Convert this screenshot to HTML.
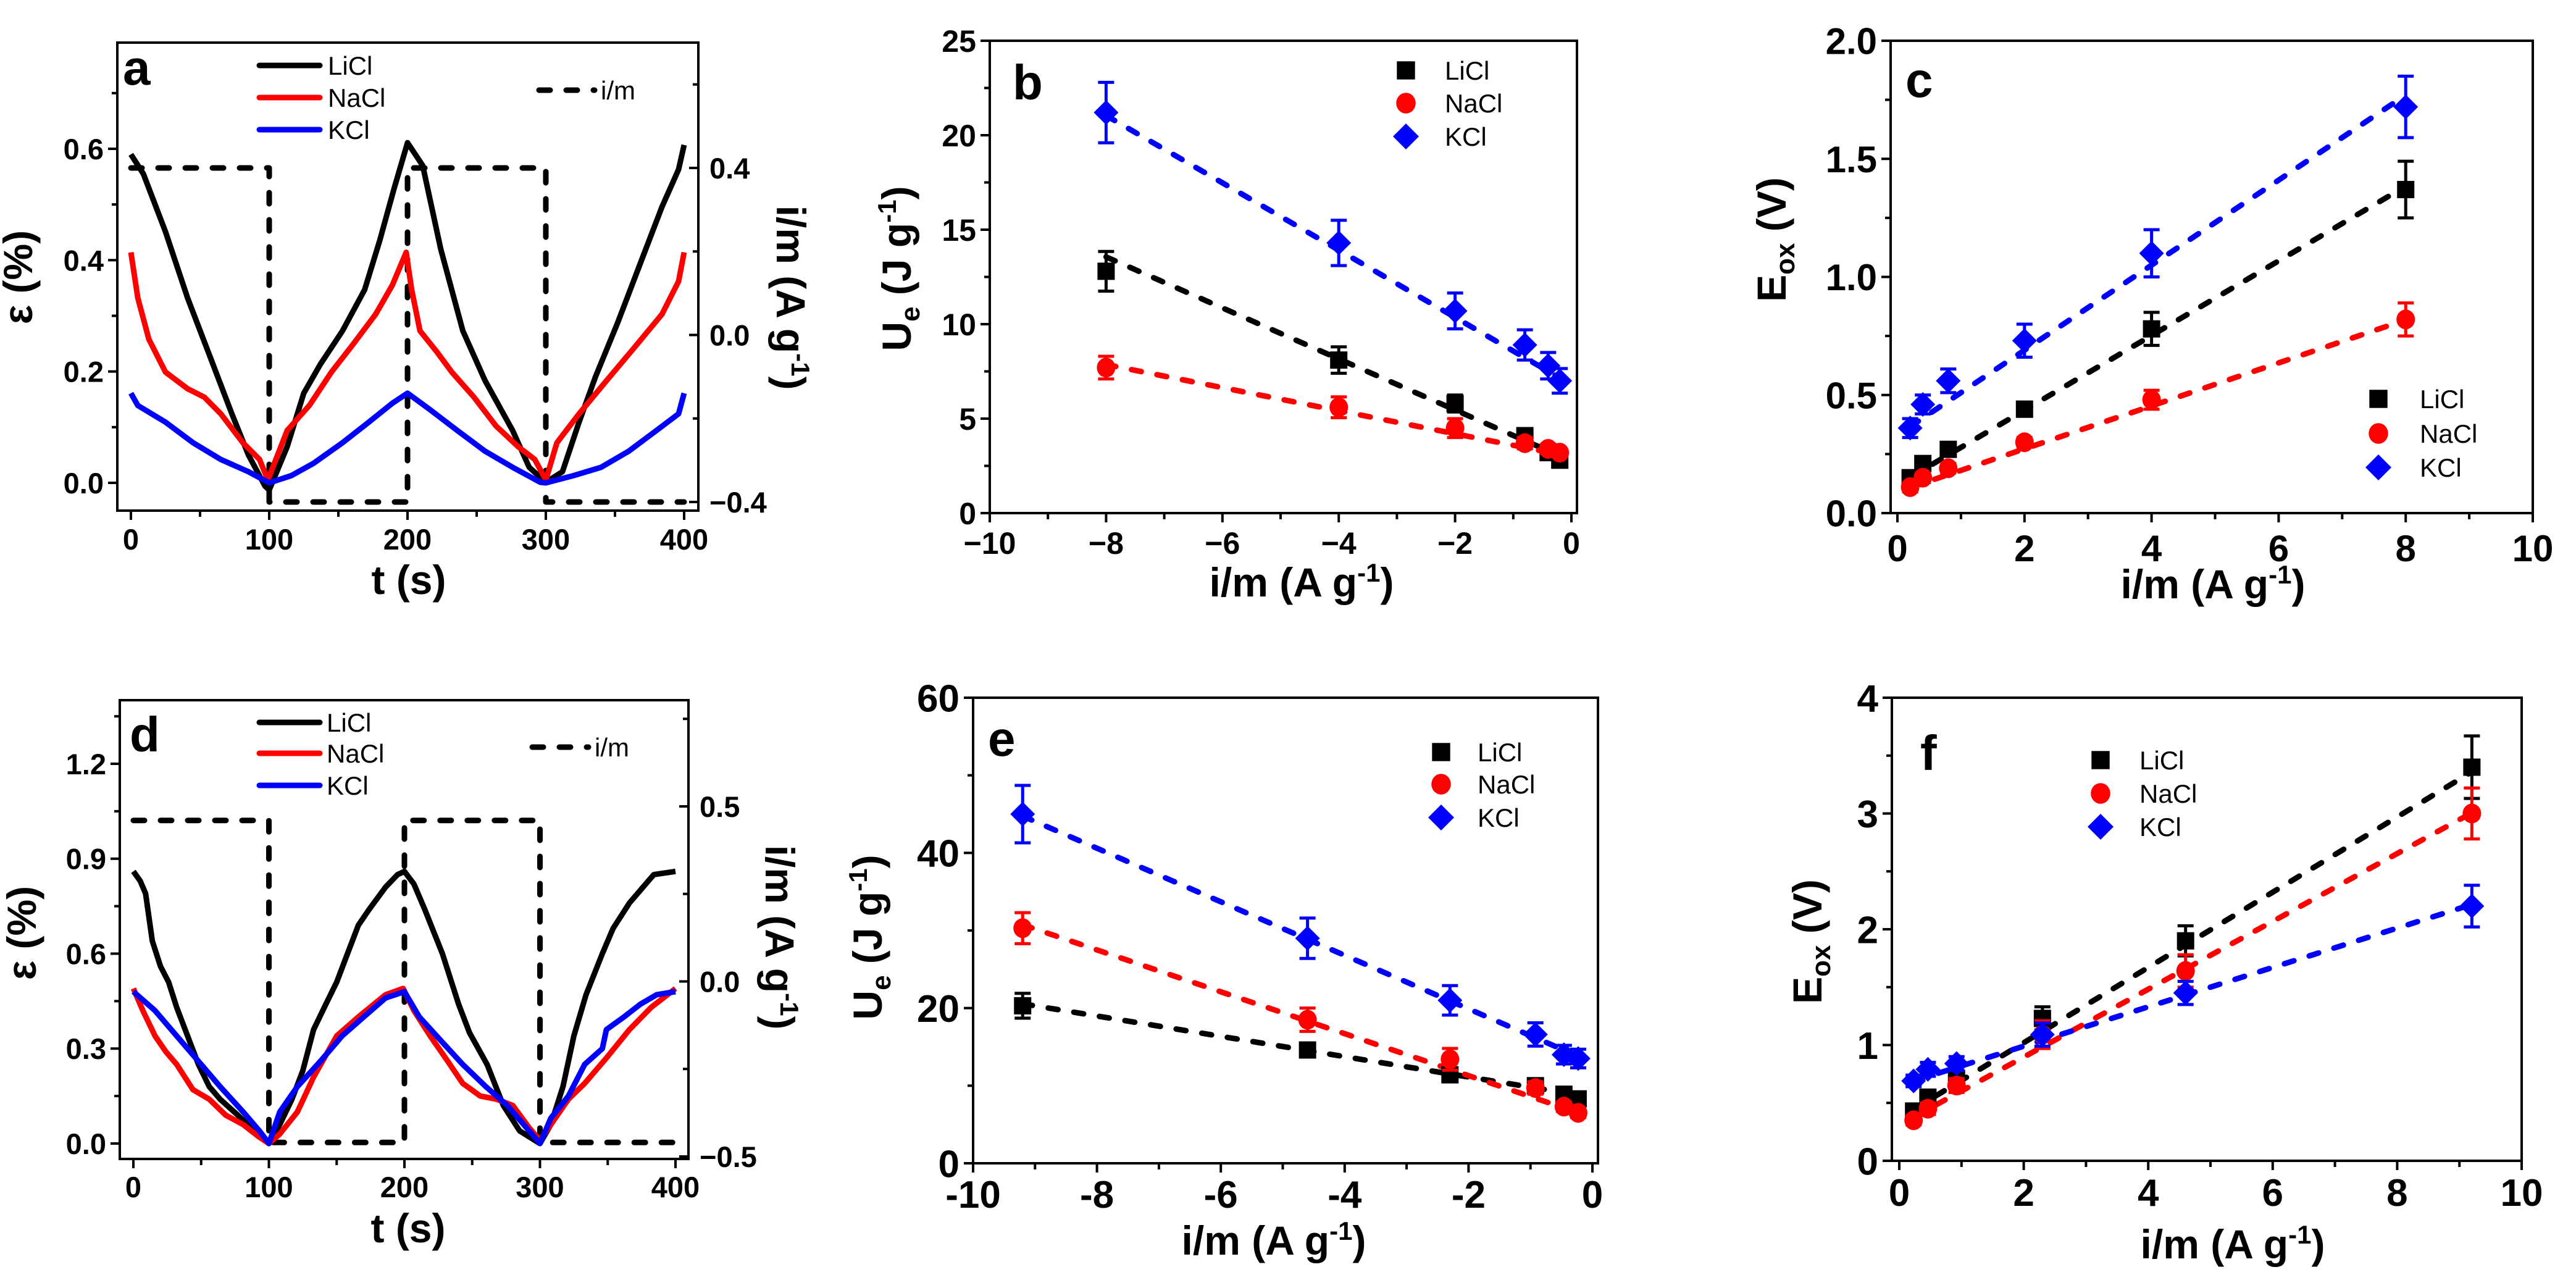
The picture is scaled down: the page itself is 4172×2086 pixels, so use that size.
<!DOCTYPE html>
<html><head><meta charset="utf-8"><title>Figure panels a-f</title>
<style>
html,body{margin:0;padding:0;background:#fff;}
svg{display:block;}
text{font-family:"Liberation Sans",Arial,sans-serif;fill:#000;}
</style></head>
<body>
<svg id="fig" width="4172" height="2086" viewBox="0 0 4172 2086" xmlns="http://www.w3.org/2000/svg">
<rect x="0" y="0" width="4172" height="2086" fill="#fff"/>
</svg>
<script>
// ---------- DATA ----------
// panel a (t in s, strain in %)
const aLiT=[0,9,25,41,57,73,85,97,100,113,125,137,153,169,180,190,200,211,224,240,256,276,288,300,312,324,336,352,368,384,396,400];
const aLiV=[0.59,0.555,0.451,0.332,0.228,0.124,0.05,-0.006,-0.013,0.065,0.161,0.213,0.273,0.347,0.436,0.526,0.611,0.57,0.42,0.273,0.184,0.094,0.028,0.001,0.02,0.109,0.191,0.288,0.392,0.496,0.563,0.607];
const aNaT=[0,5,13,25,41,53,65,81,93,99,113,129,145,161,177,189,199,203,209,221,232,248,264,280,292,300,308,324,344,364,384,396,400];
const aNaV=[0.414,0.332,0.258,0.199,0.169,0.154,0.124,0.072,0.042,0.005,0.094,0.139,0.199,0.25,0.303,0.355,0.414,0.347,0.273,0.236,0.199,0.154,0.102,0.065,0.042,0.005,0.072,0.124,0.184,0.243,0.303,0.362,0.414];
const aKT=[0,5,25,45,65,85,100,116,132,153,172,189,200,216,236,256,276,296,300,320,340,360,380,396,400];
const aKV=[0.161,0.139,0.109,0.072,0.042,0.02,0,0.013,0.035,0.072,0.109,0.143,0.161,0.132,0.094,0.057,0.028,0.001,0,0.013,0.028,0.057,0.094,0.124,0.161];
const aImT=[0,100,100,200,200,300,300,400];
const aImV=[0.4,0.4,-0.4,-0.4,0.4,0.4,-0.4,-0.4];
// panel d
const dLiT=[0,5,9,14,20,26,32,40,48,56,64,77,89,100,108,117,125,133,142,150,158,166,174,186,195,200,207,215,228,240,248,261,273,285,300,308,317,325,334,346,354,366,376,384,400];
const dLiV=[0.86,0.83,0.79,0.64,0.56,0.51,0.43,0.34,0.25,0.18,0.14,0.09,0.04,0.0,0.06,0.14,0.23,0.36,0.44,0.51,0.60,0.69,0.74,0.81,0.85,0.86,0.82,0.74,0.60,0.44,0.35,0.25,0.12,0.04,0.0,0.06,0.18,0.34,0.47,0.60,0.68,0.76,0.81,0.85,0.86];
const dNaT=[0,7,16,24,32,44,56,68,81,93,100,108,121,133,150,166,186,199,207,219,232,243,256,268,280,292,300,308,321,333,349,366,382,400];
const dNaV=[0.49,0.42,0.34,0.29,0.25,0.17,0.14,0.09,0.06,0.02,0.0,0.03,0.10,0.21,0.34,0.40,0.47,0.49,0.42,0.34,0.26,0.19,0.15,0.14,0.12,0.05,0.01,0.06,0.14,0.19,0.27,0.36,0.43,0.49];
const dKT=[0,16,32,48,64,81,93,100,108,121,138,154,170,186,200,211,228,243,260,276,292,300,308,321,333,346,349,362,374,386,400];
const dKV=[0.48,0.42,0.34,0.26,0.18,0.10,0.04,0.0,0.10,0.18,0.26,0.34,0.40,0.46,0.48,0.40,0.32,0.25,0.18,0.12,0.04,0.0,0.08,0.15,0.25,0.30,0.36,0.40,0.44,0.47,0.48];
const dImT=[0,100,100,200,200,300,300,400];
const dImV=[0.46,0.46,-0.46,-0.46,0.46,0.46,-0.46,-0.46];
// panel b
const bX=[-8,-4,-2,-0.8,-0.4,-0.2];
const bLi=[12.8,8.1,5.8,4.1,3.2,2.8];   const bLiErr=[1.05,0.7,0.45,0.3,0.25,0.2];
const bNa=[7.7,5.6,4.5,3.7,3.4,3.2];    const bNaErr=[0.6,0.55,0.5,0.3,0.25,0.2];
const bK=[21.2,14.3,10.7,8.9,7.8,7.0];  const bKErr=[1.6,1.2,0.95,0.8,0.7,0.65];
const bFitSlope=[-1.35,-0.61,-1.78]; const bFitIcpt=[2.76,2.98,6.8]; const bFitRange=[-8,-0.2];
// panel c
const cX=[0.2,0.4,0.8,2,4,8];
const cLi=[0.15,0.21,0.27,0.44,0.78,1.37]; const cLiErr=[0.02,0.02,0.02,0.03,0.07,0.12];
const cNa=[0.11,0.15,0.19,0.30,0.48,0.82]; const cNaErr=[0.02,0.02,0.02,0.02,0.04,0.07];
const cK=[0.36,0.46,0.56,0.73,1.10,1.72];  const cKErr=[0.04,0.04,0.05,0.07,0.1,0.13];
const cFitSlope=[0.158,0.091,0.18]; const cFitIcpt=[0.12,0.09,0.33]; const cFitRange=[0.2,8];
// panel e
const eX=[-9.2,-4.6,-2.3,-0.92,-0.46,-0.23];
const eLi=[20.3,14.6,11.4,10.0,8.9,8.3]; const eLiErr=[1.6,0.6,0.4,0.5,0.5,0.4];
const eNa=[30.3,18.5,13.4,9.7,7.3,6.5];  const eNaErr=[2.0,1.5,1.4,0.8,0.6,0.6];
const eK=[45.0,29.0,21.0,16.6,14.0,13.5]; const eKErr=[3.7,2.6,1.9,1.5,1.2,1.2];
const eFitSlope=[-1.31,-2.70,-3.45]; const eFitIcpt=[8.5,5.9,13.0]; const eFitRange=[-9.2,-0.23];
// panel f
const fX=[0.23,0.46,0.92,2.3,4.6,9.2];
const fLi=[0.43,0.55,0.71,1.23,1.90,3.40]; const fLiErr=[0.04,0.05,0.06,0.1,0.13,0.27];
const fNa=[0.35,0.45,0.65,1.09,1.64,3.0];  const fNaErr=[0.04,0.05,0.06,0.12,0.14,0.22];
const fK=[0.69,0.79,0.84,1.09,1.45,2.20];  const fKErr=[0.05,0.06,0.06,0.1,0.1,0.18];
const fFitSlope=[0.325,0.293,0.17]; const fFitIcpt=[0.37,0.31,0.65]; const fFitRange=[0.23,9.2];
// tick values & labels
const tTicks=[0,100,200,300,400]; const tLabels=["0","100","200","300","400"];
const aLeftTicks=[0,0.2,0.4,0.6]; const aLeftLabels=["0.0","0.2","0.4","0.6"];
const aRightTicks=[-0.4,0,0.4]; const aRightLabels=["\u22120.4","0.0","0.4"];
const bXTicks=[-10,-8,-6,-4,-2,0]; const bXLabels=["\u221210","\u22128","\u22126","\u22124","\u22122","0"];
const bYTicks=[0,5,10,15,20,25]; const bYLabels=["0","5","10","15","20","25"];
const cXTicks=[0,2,4,6,8,10]; const cXLabels=["0","2","4","6","8","10"];
const cYTicks=[0,0.5,1,1.5,2]; const cYLabels=["0.0","0.5","1.0","1.5","2.0"];
const dLeftTicks=[0,0.3,0.6,0.9,1.2]; const dLeftLabels=["0.0","0.3","0.6","0.9","1.2"];
const dRightTicks=[-0.5,0,0.5]; const dRightLabels=["\u22120.5","0.0","0.5"];
const eXTicks=[-10,-8,-6,-4,-2,0]; const eXLabels=["-10","-8","-6","-4","-2","0"];
const eYTicks=[0,20,40,60]; const eYLabels=["0","20","40","60"];
const fXTicks=[0,2,4,6,8,10]; const fXLabels=["0","2","4","6","8","10"];
const fYTicks=[0,1,2,3,4]; const fYLabels=["0","1","2","3","4"];
const seriesNames=["LiCl","NaCl","KCl"];

// ---------- DRAWING ----------
const svg=document.getElementById('fig');
const NS='http://www.w3.org/2000/svg';
const COL=['#000000','#ff0000','#0000ff'];
function mk(tag,attrs,parent){const e=document.createElementNS(NS,tag);for(const k in attrs)e.setAttribute(k,attrs[k]);parent.appendChild(e);return e;}
function lin(v0,p0,v1,p1){return v=>p0+(v-v0)*(p1-p0)/(v1-v0);}

function panel(P){
  const g=mk('g',{},svg);
  
  
  const sx=lin(P.xc[0],P.xc[1],P.xc[2],P.xc[3]);
  const sy=lin(P.yc[0],P.yc[1],P.yc[2],P.yc[3]);
  const F=P.frame;
  const fr=mk('rect',{x:F[0],y:F[1],width:F[2]-F[0],height:F[3]-F[1],fill:'none',stroke:'#000','stroke-width':4},g);
  
  
  const xg=mk('g',{},g);
  
  
  P.xt.forEach((v,i)=>{
    const x=sx(v);
    mk('line',{x1:x,y1:F[3],x2:x,y2:F[3]+15,stroke:'#000','stroke-width':4},xg);
    const t=mk('text',{x:x,y:F[3]+P.xlOff,'text-anchor':'middle','font-size':P.fs,'font-weight':'bold'},xg);
    t.textContent=P.xl[i];
    
    
    if(i<P.xt.length-1){const m=sx((v+P.xt[i+1])/2);mk('line',{x1:m,y1:F[3],x2:m,y2:F[3]+10,stroke:'#000','stroke-width':4},xg);}
  });
  const yg=mk('g',{},g);
  
  
  P.yt.forEach((v,i)=>{
    const y=sy(v);
    mk('line',{x1:F[0]-15,y1:y,x2:F[0],y2:y,stroke:'#000','stroke-width':4},yg);
    const t=mk('text',{x:F[0]-22,y:y+P.fs*0.36,'text-anchor':'end','font-size':P.fs,'font-weight':'bold'},yg);
    t.textContent=P.yl[i];
    
    
    const step=(i<P.yt.length-1)?(P.yt[i+1]-v):(v-P.yt[i-1]);
    const m=sy(v+step/2);
    if(m>F[1]+2) mk('line',{x1:F[0]-9,y1:m,x2:F[0],y2:m,stroke:'#000','stroke-width':4},yg);
  });
  let sy2=null;
  if(P.yc2){
    sy2=lin(P.yc2[0],P.yc2[1],P.yc2[2],P.yc2[3]);
    const rg=mk('g',{},g);
    
    
    P.yt2.forEach((v,i)=>{
      const y=sy2(v);
      mk('line',{x1:F[2]-15,y1:y,x2:F[2],y2:y,stroke:'#000','stroke-width':4},rg);
      const t=mk('text',{x:F[2]+18,y:y+P.fs*0.36,'text-anchor':'start','font-size':P.fs,'font-weight':'bold'},rg);
      t.textContent=P.yl2[i];
      
      
    });
    const st=P.yt2[1]-P.yt2[0];
    for(let v=P.yt2[0]-st/2;v<P.yt2[P.yt2.length-1]+st;v+=st){const y=sy2(v);if(y>F[1]+5&&y<F[3]-5)mk('line',{x1:F[2]-9,y1:y,x2:F[2],y2:y,stroke:'#000','stroke-width':4},rg);}
  }
  const L=mk('text',{x:P.letter[0],y:P.letter[1],'font-size':80,'font-weight':'bold'},g);
  L.textContent=P.lt;
  
  
  const xt=mk('text',{x:P.xtitle[0],y:P.xtitle[1],'text-anchor':'middle','font-size':66,'font-weight':'bold'},g);
  xt.innerHTML=P.xtitleHtml;
  
  
  const yt=mk('text',{x:0,y:0,'text-anchor':'middle','font-size':66,'font-weight':'bold',transform:`translate(${P.ytitle[0]},${P.ytitle[1]}) rotate(-90)`},g);
  yt.innerHTML=P.ytitleHtml;
  
  
  if(P.y2title){
    const t2=mk('text',{x:0,y:0,'text-anchor':'middle','font-size':66,'font-weight':'bold',transform:`translate(${P.y2title[0]},${P.y2title[1]}) rotate(90)`},g);
    t2.innerHTML='i/m (A g<tspan dy="-24" font-size="42">-1</tspan><tspan dy="24">)</tspan>';
    
    
  }
  return {g,sx,sy,sy2};
}

function curve(A,xs,ys,scaleY,color,name,dash){
  const d=xs.map((x,i)=>(i?'L':'M')+A.sx(x).toFixed(1)+' '+scaleY(ys[i]).toFixed(1)).join(' ');
  const p=mk('path',{d:d,fill:'none',stroke:color,'stroke-width':9,'stroke-linejoin':'round','stroke-linecap':dash?'round':'butt'},A.g);
  if(dash)p.setAttribute('stroke-dasharray','18 26');
  
  
}

function marker(parent,k,x,y,s){
  let m;
  if(k===0) m=mk('rect',{x:x-14*s,y:y-14*s,width:28*s,height:28*s,fill:COL[0]},parent);
  else if(k===1) m=mk('ellipse',{cx:x,cy:y,rx:15*s,ry:16*s,fill:COL[1]},parent);
  else m=mk('polygon',{points:`${x},${y-20*s} ${x+20*s},${y} ${x},${y+20*s} ${x-20*s},${y}`,fill:COL[2]},parent);
  return m;
}

function scatter(A,xs,ys,errs,k){
  const g=mk('g',{},A.g);
  
  
  xs.forEach((x,i)=>{
    const px=A.sx(x),py=A.sy(ys[i]),t=A.sy(ys[i]+errs[i]),b=A.sy(ys[i]-errs[i]);
    mk('path',{d:`M${px} ${t}V${b}M${px-13} ${t}H${px+13}M${px-13} ${b}H${px+13}`,stroke:COL[k],'stroke-width':5,fill:'none'},g);
    const m=marker(g,k,px,py,1);
    
    
  });
}

function fit(A,slope,icpt,range,k){
  const x0=range[0],x1=range[1];
  const p=mk('line',{x1:A.sx(x0),y1:A.sy(icpt+slope*x0),x2:A.sx(x1),y2:A.sy(icpt+slope*x1),stroke:COL[k],'stroke-width':9,'stroke-linecap':'round','stroke-dasharray':'16 26'},A.g);
  
  
}

function markerLegend(A,x,ys,tx){
  const g=mk('g',{},A.g);
  
  
  ys.forEach((y,k)=>{
    marker(g,k,x,y,1.05);
    const t=mk('text',{x:tx,y:y+15,'font-size':42},g);
    t.textContent=seriesNames[k];
    
    
  });
}

function lineLegend(A,x0,x1,ys,tx,im){
  const g=mk('g',{},A.g);
  
  
  ys.forEach((y,k)=>{
    mk('line',{x1:x0,y1:y,x2:x1,y2:y,stroke:COL[k],'stroke-width':9,'stroke-linecap':'round'},g);
    const t=mk('text',{x:tx,y:y+15,'font-size':42},g);
    t.textContent=seriesNames[k];
    
    
  });
  mk('line',{x1:im[0],y1:im[2],x2:im[1],y2:im[2],stroke:'#000','stroke-width':9,'stroke-linecap':'round','stroke-dasharray':'18 26'},g);
  const t=mk('text',{x:im[1]+10,y:im[2]+15,'font-size':42},g);
  t.textContent='i/m';
  
  
}

const UE='U<tspan dy="14" font-size="44">e</tspan><tspan dy="-14"> (J g</tspan><tspan dy="-24" font-size="42">-1</tspan><tspan dy="24">)</tspan>';
const EOX='E<tspan dy="14" font-size="44">ox</tspan><tspan dy="-14"> (V)</tspan>';
const IM='i/m (A g<tspan dy="-24" font-size="42">-1</tspan><tspan dy="24">)</tspan>';

const A=panel({name:'panel-a',frame:[190,69,1131,827],xc:[0,212,400,1108],yc:[0,782,0.6,241],yc2:[-0.4,813,0.4,272],
  xt:tTicks,xl:tLabels,yt:aLeftTicks,yl:aLeftLabels,yt2:aRightTicks,yl2:aRightLabels,fs:47,xlOff:63,
  letter:[199,137],lt:'a',xtitle:[662,962],xtitleHtml:'t (s)',ytitle:[52,449],ytitleHtml:'\u03b5 (%)',y2title:[1258,482]});
curve(A,aImT,aImV,A.sy2,'#000','current-step-line',true);
curve(A,aLiT,aLiV,A.sy,COL[0],'licl-strain-line',false);
curve(A,aNaT,aNaV,A.sy,COL[1],'nacl-strain-line',false);
curve(A,aKT,aKV,A.sy,COL[2],'kcl-strain-line',false);
lineLegend(A,420,518,[106,158,210],531,[873,963,146]);

const B=panel({name:'panel-b',frame:[1603,66,2554,831],xc:[-10,1603,0,2545],yc:[0,831,25,66],
  xt:bXTicks,xl:bXLabels,yt:bYTicks,yl:bYLabels,fs:50,xlOff:66,
  letter:[1640,161],lt:'b',xtitle:[2108,966],xtitleHtml:IM,ytitle:[1475,435],ytitleHtml:UE});
[0,1,2].forEach(k=>fit(B,bFitSlope[k],bFitIcpt[k],bFitRange,k));
scatter(B,bX,bLi,bLiErr,0);scatter(B,bX,bNa,bNaErr,1);scatter(B,bX,bK,bKErr,2);
markerLegend(B,2277,[114,167,221],2340);

const C=panel({name:'panel-c',frame:[3062,66,4102,831],xc:[0,3073,10,4102],yc:[0,831,2,66],
  xt:cXTicks,xl:cXLabels,yt:cYTicks,yl:cYLabels,fs:60,xlOff:78,
  letter:[3086,157],lt:'c',xtitle:[3584,969],xtitleHtml:IM,ytitle:[2892,388],ytitleHtml:EOX});
[0,1,2].forEach(k=>fit(C,cFitSlope[k],cFitIcpt[k],cFitRange,k));
scatter(C,cX,cLi,cLiErr,0);scatter(C,cX,cNa,cNaErr,1);scatter(C,cX,cK,cKErr,2);
markerLegend(C,3852,[646,702,757],3919);

const D=panel({name:'panel-d',frame:[194,1134,1115,1877],xc:[0,216,400,1094],yc:[0,1852,1.2,1237],yc2:[-0.5,1873,0.5,1306],
  xt:tTicks,xl:tLabels,yt:dLeftTicks,yl:dLeftLabels,yt2:dRightTicks,yl2:dRightLabels,fs:47,xlOff:62,
  letter:[210,1217],lt:'d',xtitle:[661,2012],xtitleHtml:'t (s)',ytitle:[58,1511],ytitleHtml:'\u03b5 (%)',y2title:[1240,1518]});
curve(D,dImT,dImV,D.sy2,'#000','current-step-line',true);
curve(D,dLiT,dLiV,D.sy,COL[0],'licl-strain-line',false);
curve(D,dNaT,dNaV,D.sy,COL[1],'nacl-strain-line',false);
curve(D,dKT,dKV,D.sy,COL[2],'kcl-strain-line',false);
lineLegend(D,420,518,[1170,1220,1272],529,[862,953,1210]);

const E=panel({name:'panel-e',frame:[1576,1130,2588,1884],xc:[-10,1576,0,2579],yc:[0,1884,60,1130],
  xt:eXTicks,xl:eXLabels,yt:eYTicks,yl:eYLabels,fs:62,xlOff:72,
  letter:[1600,1224],lt:'e',xtitle:[2063,2032],xtitleHtml:IM,ytitle:[1428,1518],ytitleHtml:UE});
[0,1,2].forEach(k=>fit(E,eFitSlope[k],eFitIcpt[k],eFitRange,k));
scatter(E,eX,eLi,eLiErr,0);scatter(E,eX,eNa,eNaErr,1);scatter(E,eX,eK,eKErr,2);
markerLegend(E,2334,[1218,1270,1324],2393);

const Fp=panel({name:'panel-f',frame:[3064,1130,4084,1880],xc:[0,3076,10,4084],yc:[0,1880,4,1130],
  xt:fXTicks,xl:fXLabels,yt:fYTicks,yl:fYLabels,fs:62,xlOff:73,
  letter:[3110,1247],lt:'f',xtitle:[3616,2038],xtitleHtml:IM,ytitle:[2950,1525],ytitleHtml:EOX});
[0,1,2].forEach(k=>fit(Fp,fFitSlope[k],fFitIcpt[k],fFitRange,k));
scatter(Fp,fX,fLi,fLiErr,0);scatter(Fp,fX,fNa,fNaErr,1);scatter(Fp,fX,fK,fKErr,2);
markerLegend(Fp,3402,[1231,1285,1339],3465);
</script>
</body></html>
